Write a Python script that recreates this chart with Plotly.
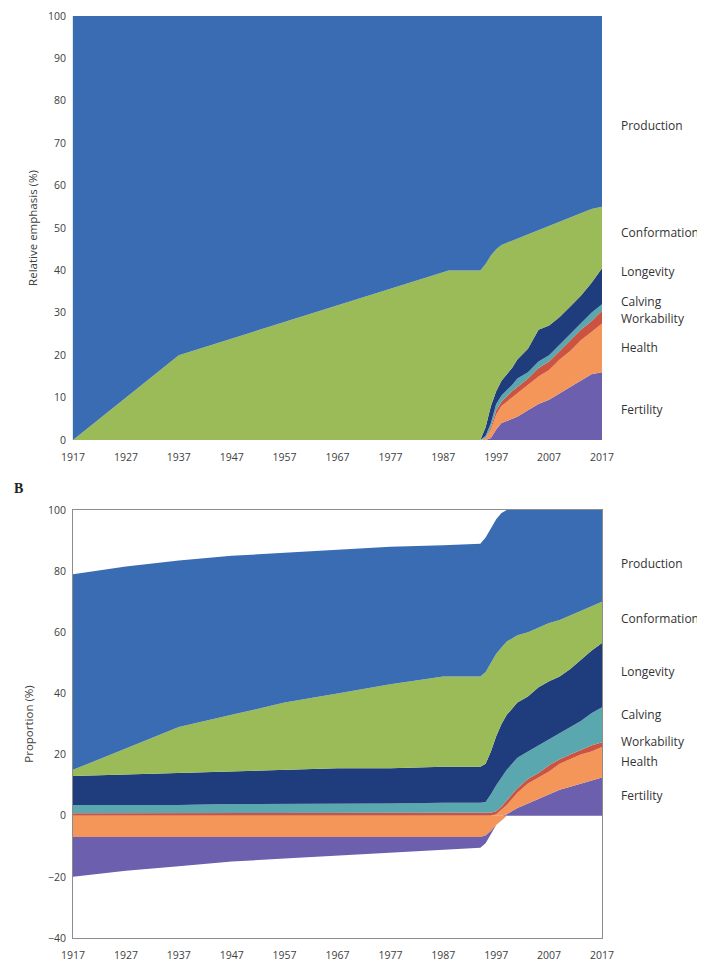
import plotly.graph_objects as go

# ---------------- Panel A data (relative emphasis, %) ----------------
years_a = [1917, 1937, 1988, 1994, 1995, 1996, 1997, 1998, 2000, 2001, 2003,
           2005, 2007, 2009, 2011, 2013, 2015, 2017]
a_fertility    = [0, 0, 0, 0, 0,   0.5, 2.5, 4,   5,   5.5, 7,   8.5, 9.5, 11,  12.5, 14,  15.5, 16]
a_health       = [0, 0, 0, 0, 0.5, 2,   3.5, 4,   5,   5.5, 6,   6.5, 7,   8,   8.5,  9.5, 10,   11.5]
a_workability  = [0, 0, 0, 0, 0,   0.5, 1,   1,   1.5, 1.5, 1.5, 2,   2,   2,   2.5,  2.5, 2.5,  3]
a_calving      = [0, 0, 0, 0, 0.5, 1,   1.5, 1.5, 1.5, 2,   1.5, 1.5, 1.5, 1.5, 1.5,  1.5, 2,    1.5]
a_longevity    = [0, 0, 0, 0, 2,   4,   3,   3.5, 4,   4.5, 5.5, 7.5, 7,   6.5, 6.5,  6.5, 7,    8.5]
a_conformation = [0, 20, 40, 40, 38.5, 35.5, 33.5, 32, 30, 28.5, 27, 23.5, 23.5, 22.5, 21, 19.5, 17.5, 14.5]
a_production   = [100, 80, 60, 60, 58.5, 56.5, 55, 54, 53, 52.5, 51.5, 50.5, 49.5, 48.5, 47.5, 46.5, 45.5, 45]

# ---------------- Panel B data (proportion, %) ----------------
years_b = [1917, 1927, 1937, 1947, 1957, 1967, 1977, 1987, 1994, 1995, 1996, 1997,
           1998, 1999, 2000, 2001, 2003, 2005, 2007, 2009, 2011, 2013, 2015, 2017]
b_fertility_pos = [0, 0, 0, 0, 0, 0, 0, 0, 0, 0, 0, 0, 0, 0.5, 1.5, 2.5, 4, 5.5, 7, 8.5, 9.5, 10.5, 11.5, 12.5]
b_health_pos    = [0, 0, 0, 0, 0, 0, 0, 0, 0, 0, 0, 0.5, 2, 3, 4, 5, 6.5, 7, 7.5, 8.5, 9, 9.5, 9.5, 10]
b_workability   = [0.8, 0.8, 0.8, 0.8, 0.8, 0.8, 0.8, 0.8, 0.8, 0.8, 1, 1, 1, 1.5, 1.5, 1.5, 1.5, 1.5, 2, 1.5, 1.5, 1.5, 2, 1.5]
b_calving       = [2.7, 2.7, 2.7, 3, 3, 3.2, 3.2, 3.4, 3.4, 3.7, 6, 8.5, 9.5, 10, 10, 10, 9, 9, 8.5, 8.5, 9, 9.5, 10.5, 11.5]
b_longevity     = [9.5, 10, 10.5, 10.7, 11.2, 11.5, 11.5, 11.8, 11.8, 12.5, 14, 16, 17.5, 18, 18, 18, 18, 19, 19, 18.5, 19, 20, 20.5, 21]
b_conformation  = [2, 8.5, 15, 18.5, 22, 24.5, 27.5, 29.5, 29.5, 30, 29, 27, 25, 24, 23, 22, 21, 19.5, 19, 18.5, 17.5, 16, 14.5, 13.5]
b_production    = [64, 59.5, 54.5, 52, 49, 47, 45, 43, 43.5, 44, 44, 44, 44, 43, 42, 41, 40, 38.5, 37, 36, 34.5, 33, 31.5, 30]
b_health_neg    = [-7, -7, -7, -7, -7, -7, -7, -7, -7, -6.5, -5, -3, -1.5, 0, 0, 0, 0, 0, 0, 0, 0, 0, 0, 0]
b_fertility_neg = [-13, -11, -9.5, -8, -7, -6, -5, -4, -3.5, -2.5, -1, 0, 0, 0, 0, 0, 0, 0, 0, 0, 0, 0, 0, 0]

year_ticks = [1917, 1927, 1937, 1947, 1957, 1967, 1977, 1987, 1997, 2007, 2017]
trait_names = ["Production", "Conformation", "Longevity", "Calving", "Workability", "Health", "Fertility"]

COL = {
    "Production": "#3a6cb4",
    "Conformation": "#9bbb59",
    "Longevity": "#1f3d7d",
    "Calving": "#5aa7b0",
    "Workability": "#cc5340",
    "Health": "#f4955a",
    "Fertility": "#6b5fae",
}

# page body has an 8px margin, so the figure is drawn 8px in from the window corner
OFF = 8
W, H = 697, 955
def px_x(p): return (p - OFF) / W
def px_y(p): return 1 - (p - OFF) / H

fig = go.Figure()

def area(x, y, name, xa, ya, group):
    fig.add_trace(go.Scatter(
        x=x, y=y, name=name, mode="lines", stackgroup=group,
        line=dict(width=0, color=COL[name]), fillcolor=COL[name],
        xaxis=xa, yaxis=ya, showlegend=False, hoverinfo="x+y+name"))

# Panel A
for name, vals in [("Fertility", a_fertility), ("Health", a_health),
                   ("Workability", a_workability), ("Calving", a_calving),
                   ("Longevity", a_longevity), ("Conformation", a_conformation),
                   ("Production", a_production)]:
    area(years_a, vals, name, "x", "y", "A")

# Panel B positive stack
for name, vals in [("Fertility", b_fertility_pos), ("Health", b_health_pos),
                   ("Workability", b_workability), ("Calving", b_calving),
                   ("Longevity", b_longevity), ("Conformation", b_conformation),
                   ("Production", b_production)]:
    area(years_b, vals, name, "x2", "y2", "Bpos")
# Panel B negative stack
for name, vals in [("Health", b_health_neg), ("Fertility", b_fertility_neg)]:
    area(years_b, vals, name, "x2", "y2", "Bneg")

tickfont = dict(family="Open Sans, Liberation Sans, sans-serif", size=10.5, color="#404040")
titlefont = dict(family="Open Sans, sans-serif", size=11.5, color="#404040")
xd = [px_x(73), px_x(602)]

common_x = dict(domain=xd, range=[1917, 2017], tickvals=year_ticks, showgrid=False,
                zeroline=False, ticks="outside", ticklen=7, tickcolor="rgba(0,0,0,0)",
                tickfont=tickfont, automargin=False, ticklabeloverflow="allow")
common_y = dict(showgrid=False, zeroline=False, ticks="outside", ticklen=4,
                tickcolor="rgba(0,0,0,0)", tickfont=tickfont, automargin=False,
                ticklabeloverflow="allow")

fig.update_layout(
    width=W, height=H, margin=dict(l=0, r=0, t=0, b=0, autoexpand=False),
    paper_bgcolor="white", plot_bgcolor="white",
    xaxis=dict(**common_x, showline=False, anchor="y"),
    yaxis=dict(**common_y, domain=[px_y(440), px_y(16)], range=[0, 100], dtick=10,
               showline=True, linecolor="#dde8f0", linewidth=1, anchor="x",
               title=dict(text="Relative emphasis (%)", font=titlefont, standoff=7)),
    xaxis2=dict(**common_x, showline=True, mirror=True, linecolor="#8c8c8c", linewidth=1,
                anchor="y2"),
    yaxis2=dict(**common_y, domain=[px_y(938), px_y(510)], range=[-40, 100], dtick=20,
                showline=True, mirror=True, linecolor="#8c8c8c", linewidth=1, anchor="x2",
                title=dict(text="Proportion (%)", font=titlefont, standoff=11)),
)

lab_font = dict(family="Open Sans, Liberation Sans, sans-serif", size=12, color="#333333")
labels_a = {"Production": 126, "Conformation": 232, "Longevity": 272, "Calving": 301,
            "Workability": 318, "Health": 348, "Fertility": 409}
labels_b = {"Production": 563, "Conformation": 618, "Longevity": 671, "Calving": 714,
            "Workability": 741, "Health": 761, "Fertility": 795}
for name in trait_names:
    fig.add_annotation(xref="paper", yref="paper", x=px_x(619), y=px_y(labels_a[name]),
                       text=name, showarrow=False, xanchor="left", yanchor="middle", font=lab_font)
    fig.add_annotation(xref="paper", yref="paper", x=px_x(619), y=px_y(labels_b[name]),
                       text=name, showarrow=False, xanchor="left", yanchor="middle", font=lab_font)

fig.add_annotation(xref="paper", yref="paper", x=px_x(12), y=px_y(488), text="<b>B</b>",
                   showarrow=False, xanchor="left", yanchor="middle",
                   font=dict(family="Liberation Serif, DejaVu Serif, serif", size=14, color="#222222"))

fig.write_html("out.html")
